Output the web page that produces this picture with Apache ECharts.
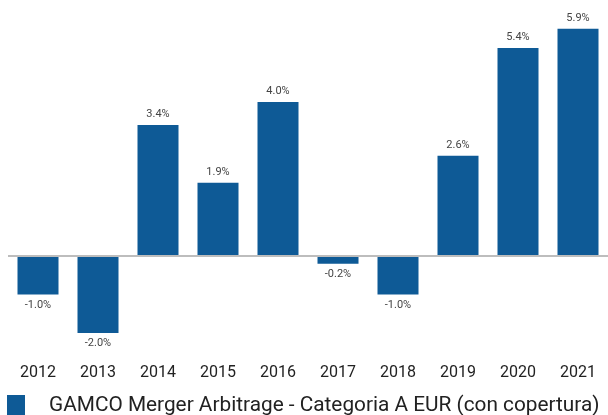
<!DOCTYPE html>
<html>
<head>
<meta charset="utf-8">
<script src="https://cdn.jsdelivr.net/npm/echarts@6/dist/echarts.min.js"></script>
<style>
  html, body { margin: 0; padding: 0; background: #fff; }
  #chart { width: 608px; height: 415px; }
</style>
</head>
<body>
<div id="chart"></div>
<script>
var years = ['2012', '2013', '2014', '2015', '2016', '2017', '2018', '2019', '2020', '2021'];
var returns = [-1.0, -2.0, 3.4, 1.9, 4.0, -0.2, -1.0, 2.6, 5.4, 5.9];
var seriesName = 'GAMCO Merger Arbitrage - Categoria A EUR (con copertura)';

// negative bars get their label underneath
var barData = returns.map(function (v) {
  return {
    value: v,
    label: { position: v < 0 ? 'bottom' : 'top' }
  };
});

var chart = echarts.init(document.getElementById('chart'));
chart.setOption({
  animation: false,
  grid: { left: 8, right: 0, top: 25, bottom: 59 },
  legend: {
    left: 7,
    top: 395,
    padding: 0,
    itemWidth: 18,
    itemHeight: 22,
    icon: 'rect',
    textStyle: { fontFamily: 'Roboto', fontSize: 20.8, color: '#222', padding: [0, 0, 0, 19] },
    data: [seriesName]
  },
  xAxis: {
    type: 'category',
    data: years,
    axisLine: { show: false, onZero: false },
    axisTick: { show: false },
    axisLabel: { color: '#222', fontSize: 16, fontFamily: 'Roboto', margin: 9 }
  },
  yAxis: {
    type: 'value',
    min: -2.6,
    max: 6,
    show: false,
    splitLine: { show: false }
  },
  series: [{
    name: seriesName,
    type: 'bar',
    barWidth: 41,
    data: barData,
    itemStyle: { color: '#0E5A96' },
    label: {
      show: true,
      distance: 5,
      color: '#444',
      fontSize: 11,
      fontFamily: 'Roboto',
      formatter: function (p) { return p.value.toFixed(1) + '%'; }
    },
    markLine: {
      silent: true,
      symbol: 'none',
      label: { show: false },
      lineStyle: { color: '#BDBDBD', width: 2, type: 'solid' },
      data: [{ yAxis: 0 }]
    }
  }]
});
</script>
</body>
</html>
